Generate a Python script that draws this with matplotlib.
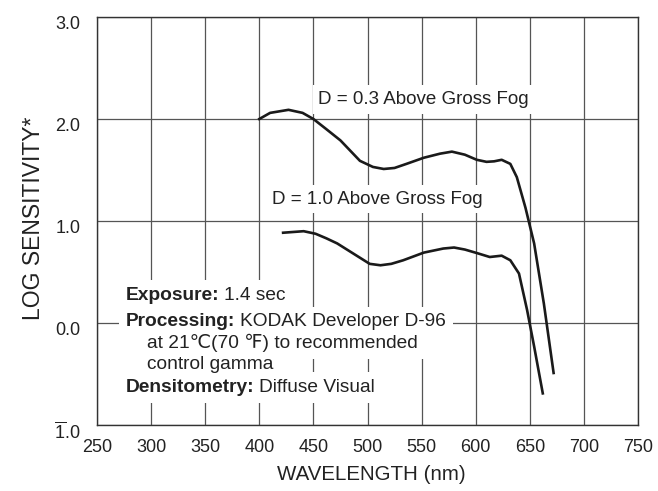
import matplotlib
matplotlib.use("Agg")
import matplotlib.pyplot as plt
import matplotlib.transforms as mtransforms

# spectral sensitivity data
upper_wl = [400, 410, 427, 440, 450, 462, 475, 493, 505, 515, 525, 536, 552,
            567, 578, 590, 601, 610, 617, 624, 632, 638, 646, 654, 663, 672]
upper_log = [2.00, 2.06, 2.09, 2.06, 2.00, 1.90, 1.79, 1.59, 1.53, 1.51, 1.52,
             1.56, 1.62, 1.66, 1.68, 1.65, 1.60, 1.58, 1.585, 1.60, 1.56, 1.43,
             1.13, 0.78, 0.19, -0.49]

lower_wl = [422, 441, 452, 462, 472, 487, 502, 512, 522, 533, 552, 570, 580,
            590, 601, 613, 624, 632, 640, 647.5, 654, 662]
lower_log = [0.885, 0.90, 0.875, 0.83, 0.78, 0.68, 0.58, 0.566, 0.58, 0.615,
             0.69, 0.73, 0.74, 0.72, 0.686, 0.647, 0.66, 0.615, 0.485, 0.127,
             -0.23, -0.69]

x_ticks = [250, 300, 350, 400, 450, 500, 550, 600, 650, 700, 750]
y_ticks = [-1, 0, 1, 2, 3]
y_ticklabels = [r"$\overline{\mathrm{1}}$.0", "0.0", "1.0", "2.0", "3.0"]

upper_label = "D = 0.3 Above Gross Fog"
lower_label = "D = 1.0 Above Gross Fog"
notes = [
    ("Exposure:", "1.4 sec"),
    ("Processing:", "KODAK Developer D-96"),
    (None, "at 21\u2103(70 \u2109) to recommended"),
    (None, "control gamma"),
    ("Densitometry:", "Diffuse Visual"),
]

plt.rcParams["font.family"] = ["Liberation Sans", "DejaVu Sans"]
plt.rcParams["mathtext.fontset"] = "custom"
plt.rcParams["mathtext.rm"] = "Liberation Sans"

fig = plt.figure(figsize=(6.58, 4.91), dpi=100)
ax = fig.add_axes([97 / 658, 1 - 425 / 491, 541 / 658, 408 / 491])

ax.set_xlim(250, 750)
ax.set_ylim(-1, 3)
ax.set_xticks(x_ticks)
ax.set_yticks(y_ticks)
ax.set_yticklabels(y_ticklabels)
ax.tick_params(length=0, labelsize=13, colors="#222222")
ax.tick_params(axis="x", pad=10)
ax.tick_params(axis="y", pad=12)
ax.grid(True, color="#555555", linewidth=0.9, zorder=1)
ax.set_axisbelow(True)
for sp in ax.spines.values():
    sp.set_color("#333333")
    sp.set_linewidth(1.0)

# y tick labels sit a little below their gridline
shift = mtransforms.ScaledTranslation(0, -4 / 72, fig.dpi_scale_trans)
for lab in ax.get_yticklabels():
    lab.set_transform(lab.get_transform() + shift)

ax.plot(upper_wl, upper_log, color="#1a1a1a", linewidth=1.9, zorder=3)
ax.plot(lower_wl, lower_log, color="#1a1a1a", linewidth=1.9, zorder=3)

box = dict(facecolor="white", edgecolor="none", pad=4)
ax.text(454.5, 2.19, upper_label, fontsize=13.5, color="#222222",
        ha="left", va="center", bbox=box, zorder=4)
ax.text(412, 1.215, lower_label, fontsize=13.5, color="#222222",
        ha="left", va="center", bbox=box, zorder=4)


def note(x, y, s, bold=False, after=None):
    # white patch behind (drawn first), then the text itself on top
    kw = dict(fontsize=13.8, ha="left", va="center",
              fontweight="bold" if bold else "normal")
    if after is None:
        back = ax.text(x, y, s, color="none", zorder=3.5,
                       bbox=dict(facecolor="white", edgecolor="none", pad=5), **kw)
        front = ax.text(x, y, s, color="#222222", zorder=4, **kw)
    else:
        back = ax.annotate(s, xy=(1, 0.5), xycoords=after, xytext=(3.5, 0),
                           textcoords="offset points", color="none", zorder=3.5,
                           bbox=dict(facecolor="white", edgecolor="none", pad=5), **kw)
        front = ax.annotate(s, xy=(1, 0.5), xycoords=after, xytext=(3.5, 0),
                            textcoords="offset points", color="#222222",
                            zorder=4, **kw)
    return front


line_y = [0.27, 0.01, -0.195, -0.41, -0.635]
for (head, body), y in zip(notes, line_y):
    if head is not None:
        t = note(276.8, y, head, bold=True)
        note(0, 0, body, after=t)
    else:
        note(296, y, body)

ax.set_xlabel("WAVELENGTH (nm)", fontsize=14.8, color="#222222")
ax.xaxis.set_label_coords(0.5075, -0.1225)
ax.xaxis.label.set_va("center")
ax.set_ylabel("LOG SENSITIVITY*", fontsize=16.5, color="#222222")
ax.yaxis.set_label_coords(-0.118, 0.506)
ax.yaxis.label.set_va("center")

fig.savefig("out.png", dpi=100)
